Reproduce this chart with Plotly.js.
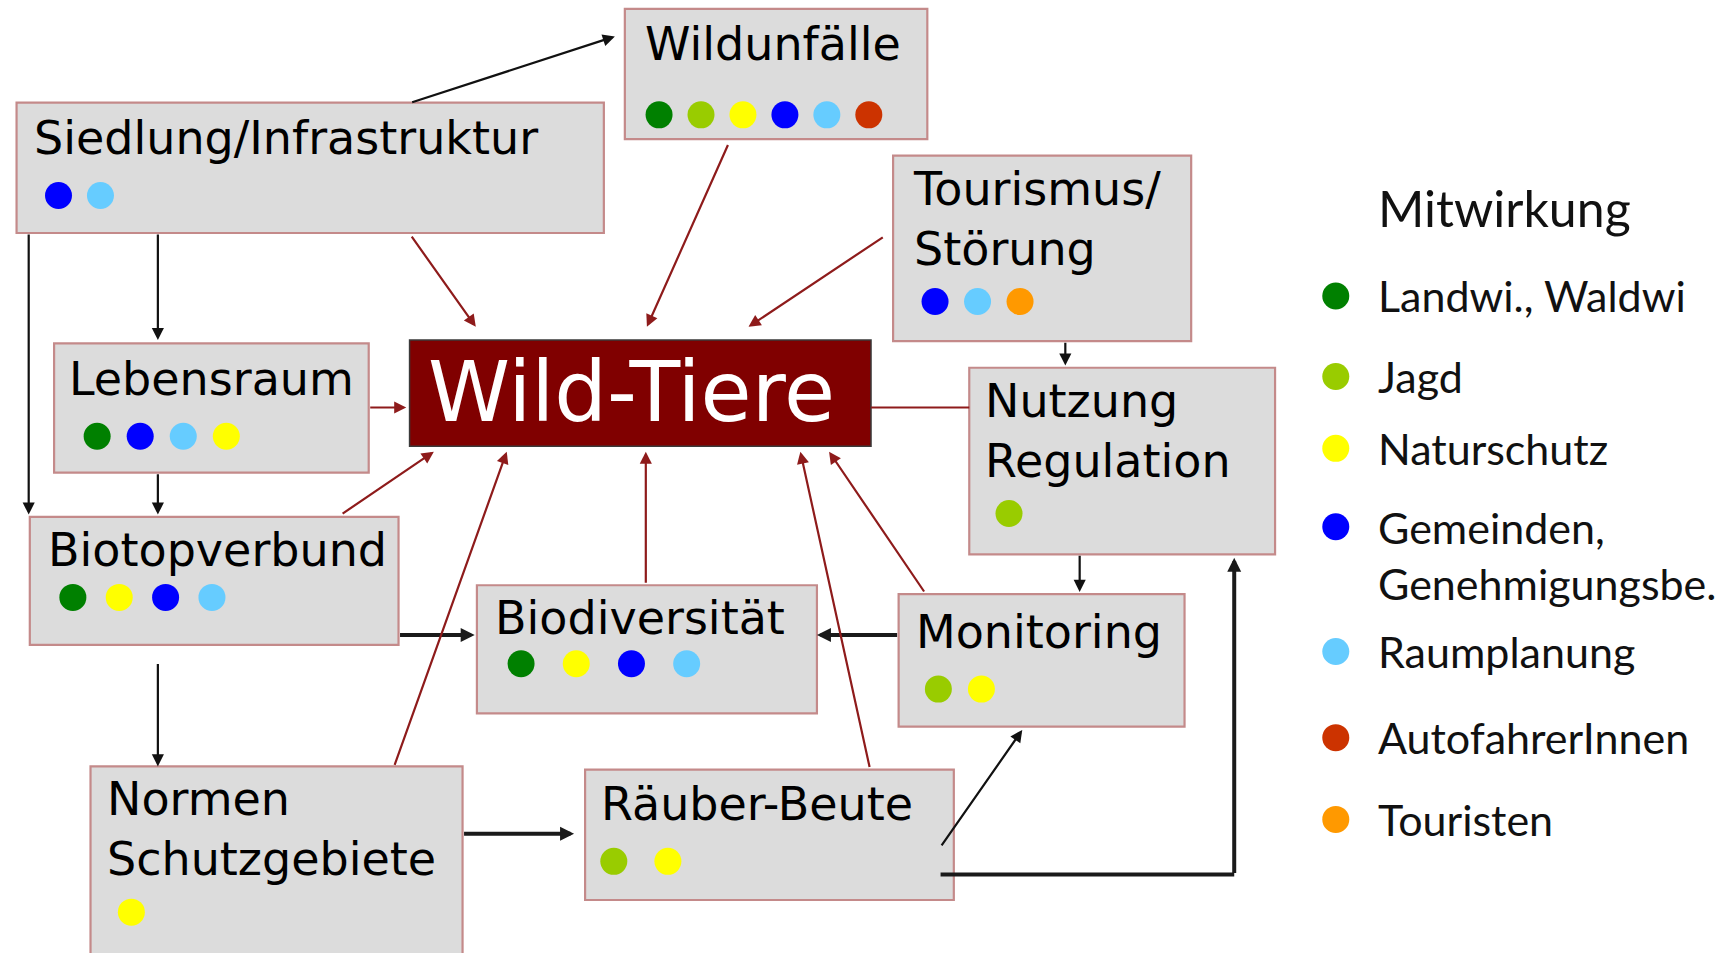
<!DOCTYPE html>
<html><head><meta charset="utf-8">
<script src="https://cdn.plot.ly/plotly-3.0.1.min.js"></script>
<style>html,body{margin:0;padding:0;background:#fff;}#chart{width:1731px;height:953px;}</style>
</head><body><div id="chart"></div>
<script>
// ---------------- DATA ----------------
const legendTitle = 'Mitwirkung';
const categories = ['Landwi., Waldwi', 'Jagd', 'Naturschutz', 'Gemeinden,<br>Genehmigungsbe.', 'Raumplanung', 'AutofahrerInnen', 'Touristen'];
const nodeNames = ['Wildunfälle', 'Siedlung/Infrastruktur', 'Tourismus/<br>Störung', 'Lebensraum', 'Wild-Tiere',
  'Nutzung<br>Regulation', 'Biotopverbund', 'Biodiversität', 'Monitoring', 'Normen<br>Schutzgebiete', 'Räuber-Beute'];
// participating groups per node (indices into categories)
const nodeParticipants = [[0,1,2,3,4,5], [3,4], [3,4,6], [0,3,4,2], [], [1], [0,2,3,4], [0,2,3,4], [1,2], [2], [1,2]];

// ---------------- STYLE / LAYOUT ----------------
const categoryColors = ['#008000', '#99cc00', '#ffff00', '#0000ff', '#66ccff', '#cc3300', '#ff9900'];
const W = 1568, H = 863; // drawing coordinate space
const boxGeom = [[566,8,840,126],[15,93,547,211],[809,141,1079,309],[49,311,334,428],[371,308,789,404],
  [878,333,1155,502],[27,468,361,584],[432,530,740,646],[814,538,1073,658],[82,694,419,875],[530,697,864,815]];
const labelPos = [[582,40],[29,125],[825,198],[61,343],[572,355],[890,390],[42,498],[447,560],[828,572],[95,751],[543,728]];
const dotLayout = [[597,104,38],[53,177,38],[847,273,38.5],[88,395,39],null,[914,465,38],[66,541,42],[472,601,50],[850,624,39],[119,826,38],[556,780,49]];
const legendDotX = 1210, legendTextX = 1246;
const legendDotY = [268,341,406,477,590,668,742];
const legendTextY = [268,341,406,503,590,668,742];
// connector routing: x0,y0,x1,y1, style, arrowhead at end
const routes = [
  [372,93,557,33,'b',1],[143,211,143,308,'b',1],[26,211,26,466,'b',1],[143,428,143,466,'b',1],
  [361,575,430,575,'B',1],[143,600,143,694,'b',1],[419,755,520,755,'B',1],[814,575,740,575,'B',1],
  [965,309,965,331,'b',1],[978,502,978,536,'b',1],[852,767,926,661,'b',1],
  [852,792,1118,792,'B',0],[1118,792,1118,505,'B',1],
  [372,213,431,296,'r',1],[660,130,586,296,'r',1],[801,214,678,296,'r',1],[334,369,368,369,'r',1],
  [789,369,878,369,'r',0],[309,466,393,409,'r',1],[357,694,459,409,'r',1],[585,529,585,409,'r',1],
  [788,696,725,409,'r',1],[838,537,751,409,'r',1]
];
const routeStyle = {b:{c:'#111111',w:2.2,s:1.1}, B:{c:'#1a1a1a',w:4,s:0.7}, r:{c:'#8e1b1b',w:2.2,s:1.1}};

const shapes = [], annotations = [], traces = [];
nodeNames.forEach((name, i) => {
  const g = boxGeom[i];
  const main = (name === 'Wild-Tiere');
  shapes.push({type:'rect', xref:'x', yref:'y', x0:g[0], y0:g[1], x1:g[2], y1:g[3], layer:'below',
    fillcolor: main ? '#800000' : '#dcdcdc', line:{color: main ? '#3a3a3a' : '#c48a8a', width: main ? 1.5 : 2.2}});
  annotations.push({x:labelPos[i][0], y:labelPos[i][1], xref:'x', yref:'y', text:name, showarrow:false,
    xanchor: main ? 'center' : 'left', yanchor:'middle', align:'left',
    font: main ? {family:'DejaVu Sans', size:83, color:'#ffffff'} : {family:'DejaVu Sans', size:46, color:'#000000'}});
});
routes.forEach(r => {
  const st = routeStyle[r[4]];
  if (r[5]) {
    annotations.push({x:r[2], y:r[3], ax:r[0], ay:r[1], xref:'x', yref:'y', axref:'x', ayref:'y', text:'',
      showarrow:true, arrowhead:2, arrowsize:st.s, arrowwidth:st.w, arrowcolor:st.c, standoff:0, startstandoff:0});
  } else {
    shapes.push({type:'line', xref:'x', yref:'y', x0:r[0], y0:r[1], x1:r[2], y1:r[3], line:{color:st.c, width:st.w}});
  }
});
// dots per category
categories.forEach((cat, c) => {
  const xs = [], ys = [];
  nodeParticipants.forEach((parts, i) => {
    const k = parts.indexOf(c);
    if (k >= 0 && dotLayout[i]) { xs.push(dotLayout[i][0] + k * dotLayout[i][2]); ys.push(dotLayout[i][1]); }
  });
  xs.push(legendDotX); ys.push(legendDotY[c]);
  traces.push({type:'scatter', mode:'markers', x:xs, y:ys, hoverinfo:'skip', showlegend:false,
    marker:{size:27, color:categoryColors[c], line:{width:0}}});
  annotations.push({x:legendTextX, y:legendTextY[c], xref:'x', yref:'y', text:cat, showarrow:false,
    xanchor:'left', yanchor:'middle', align:'left', font:{family:'Lato', size:43, color:'#111'}});
});
annotations.push({x:legendTextX, y:188, xref:'x', yref:'y', text:legendTitle, showarrow:false,
  xanchor:'left', yanchor:'middle', font:{family:'Lato', size:50, color:'#111'}});

const layout = {
  width:1731, height:953, margin:{l:0,r:0,t:0,b:0}, paper_bgcolor:'#ffffff', plot_bgcolor:'#ffffff',
  xaxis:{range:[0,W], visible:false, fixedrange:true},
  yaxis:{range:[H,0], visible:false, fixedrange:true},
  shapes, annotations, showlegend:false
};
Plotly.newPlot('chart', traces, layout, {staticPlot:true, displayModeBar:false});
</script></body></html>
